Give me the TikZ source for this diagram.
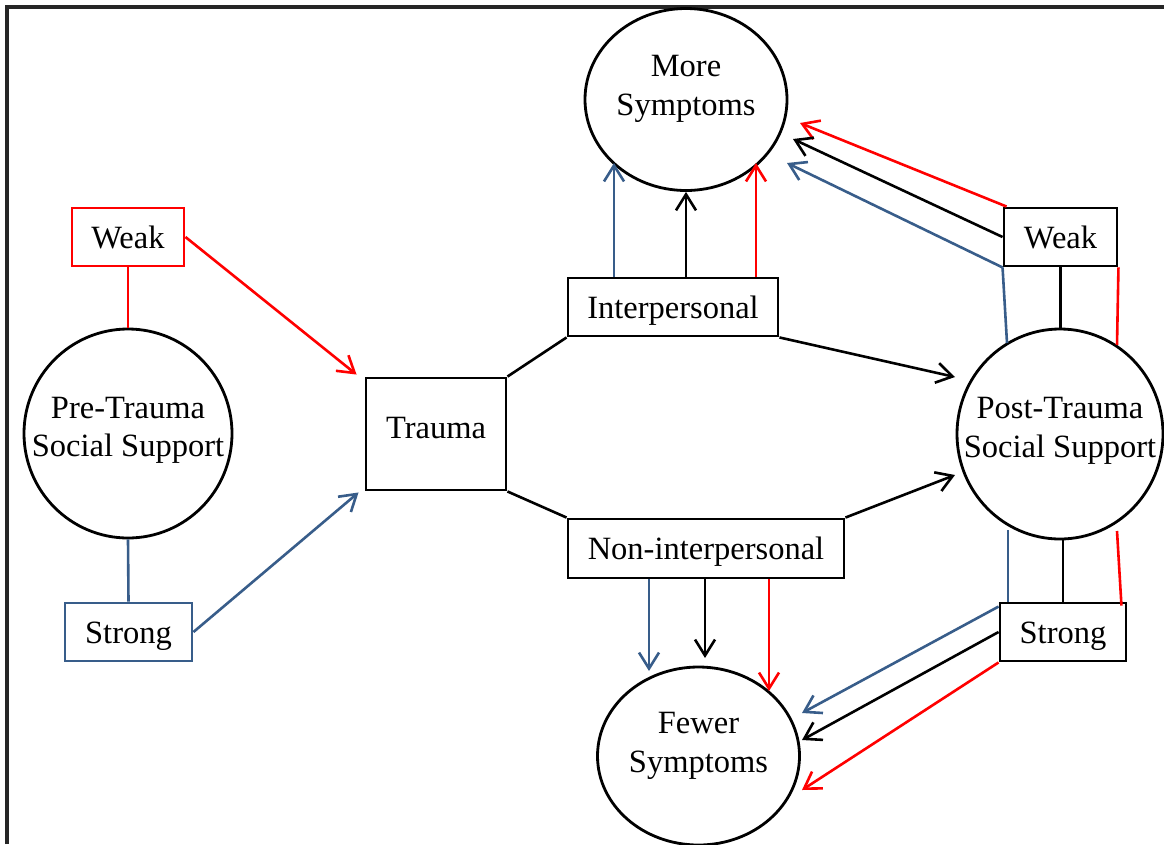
\documentclass[tikz,border=0pt]{standalone}
\usepackage{fontspec}
\setmainfont{Liberation Serif}
\usetikzlibrary{arrows.meta,calc,shapes.geometric}
\definecolor{cred}{RGB}{255,0,0}
\definecolor{cblue}{RGB}{56,93,138}
\begin{document}
\begin{tikzpicture}[x=1pt,y=-1pt,
  bx/.style={draw, line width=2.9pt, rectangle, inner sep=0pt, minimum height=58pt,
    text height=22pt, text depth=0pt, font=\fontsize{32.5}{38}\selectfont},
  el/.style={draw, line width=2.8pt, ellipse, inner sep=0pt},
  lbl/.style={align=center, font=\fontsize{32.5}{38.5}\selectfont, inner sep=0pt},
  con/.style={line width=2.6pt},
  arr/.style={con, -{Straight Barb[length=16pt,width=20pt]}},
]
\useasboundingbox (0,0) rectangle (1164,844);
% frame
\draw[line width=3.2pt, black!85] (7,844) -- (7,7) -- (1164,7);

% nodes
\node[el, minimum width=202pt, minimum height=182pt,
  label={[lbl,yshift=10.5pt]center:{More\\Symptoms}}] (more) at (686,99.5) {};
\node[el, minimum width=202pt, minimum height=178pt,
  label={[lbl,yshift=10pt]center:{Fewer\\Symptoms}}] (fewer) at (698.5,756) {};
\node[el, minimum width=208pt, minimum height=209pt,
  label={[lbl,yshift=3pt]center:{Pre-Trauma\\Social Support}}] (pre) at (128,433.5) {};
\node[el, minimum width=206pt, minimum height=210pt,
  label={[lbl,yshift=3pt]center:{Post-Trauma\\Social Support}}] (post) at (1060,434) {};

\node[bx, minimum width=140pt, minimum height=112pt, text depth=14pt] (trauma) at (436,434) {Trauma};
\node[bx, minimum width=210pt] (inter) at (673,307) {Interpersonal};
\node[bx, minimum width=276pt, minimum height=59pt] (non) at (706,548.5) {Non-interpersonal};
\node[bx, draw=cred, minimum width=112pt] (weakL) at (128,237) {Weak};
\node[bx, draw=cblue, minimum width=127pt] (strongL) at (128.5,632) {Strong};
\node[bx, minimum width=113pt] (weakR) at (1060.5,237) {Weak};
\node[bx, minimum width=126pt] (strongR) at (1063,632) {Strong};

% tip coordinates
\coordinate (mB) at ($(more.center)+(-72,63.5)$);
\coordinate (mR) at ($(more.center)+(70,63.5)$);
\coordinate (mwR) at ($(more.center)+(114,23.5)$);
\coordinate (mwK) at ($(more.center)+(107,39.5)$);
\coordinate (mwB) at ($(more.center)+(101,63.5)$);
\coordinate (fB) at ($(fewer.center)+(-49.5,-85)$);
\coordinate (fK) at ($(fewer.center)+(6.5,-98)$);
\coordinate (fR) at ($(fewer.center)+(70.5,-65)$);
\coordinate (fsB) at ($(fewer.center)+(103.5,-43)$);
\coordinate (fsK) at ($(fewer.center)+(103.5,-16)$);
\coordinate (fsR) at ($(fewer.center)+(103.5,34)$);
\coordinate (pI) at ($(post.center)+(-105,-57)$);
\coordinate (pN) at ($(post.center)+(-105,41)$);
\coordinate (pwB) at ($(post.center)+(-53,-91)$);
\coordinate (pwR) at ($(post.center)+(57,-89)$);
\coordinate (psB) at ($(post.center)+(-52,96)$);
\coordinate (psR) at ($(post.center)+(57,97)$);

% left side
\draw[con, cred] (weakL.south) -- (pre.north);
\draw[con, cblue] (pre.south) -- (strongL.north);
\draw[arr, cred] (weakL.east) -- ($(trauma.north west)+(-8,-2)$);
\draw[arr, cblue] (strongL.east) -- ($(trauma.south west)+(-6,1)$);

% trauma branches
\draw[con] (trauma.north east) -- (inter.south west);
\draw[con] (trauma.south east) -- (non.north west);
\draw[arr] (inter.south east) -- (pI);
\draw[arr] (non.north east) -- (pN);

% interpersonal to more symptoms
\draw[arr, cblue] (mB |- inter.north) -- (mB);
\draw[arr] (more.south |- inter.north) -- (more.south);
\draw[arr, cred] (mR |- inter.north) -- (mR);

% non-interpersonal to fewer symptoms
\draw[arr, cblue] (fB |- non.south) -- (fB);
\draw[arr] (fK |- non.south) -- (fK);
\draw[arr, cred] (fR |- non.south) -- (fR);

% post-trauma weak
\draw[con, cblue] (weakR.south west) -- (pwB);
\draw[con] (weakR.south) -- (weakR.south |- post.north);
\draw[con, cred] (weakR.south east) -- (pwR);
\draw[arr, cred] ($(weakR.north west)+(4,0)$) -- (mwR);
\draw[arr] (weakR.west) -- (mwK);
\draw[arr, cblue] (weakR.south west) -- (mwB);

% post-trauma strong
\draw[con, cblue] (psB) -- (psB |- strongR.north);
\draw[con] (strongR.north |- post.south) -- (strongR.north);
\draw[con, cred] (psR) -- ($(strongR.north east)+(-6,4)$);
\draw[arr, cblue] ($(strongR.north west)+(0,5)$) -- (fsB);
\draw[arr] (strongR.west) -- (fsK);
\draw[arr, cred] (strongR.south west) -- (fsR);
\end{tikzpicture}
\end{document}
